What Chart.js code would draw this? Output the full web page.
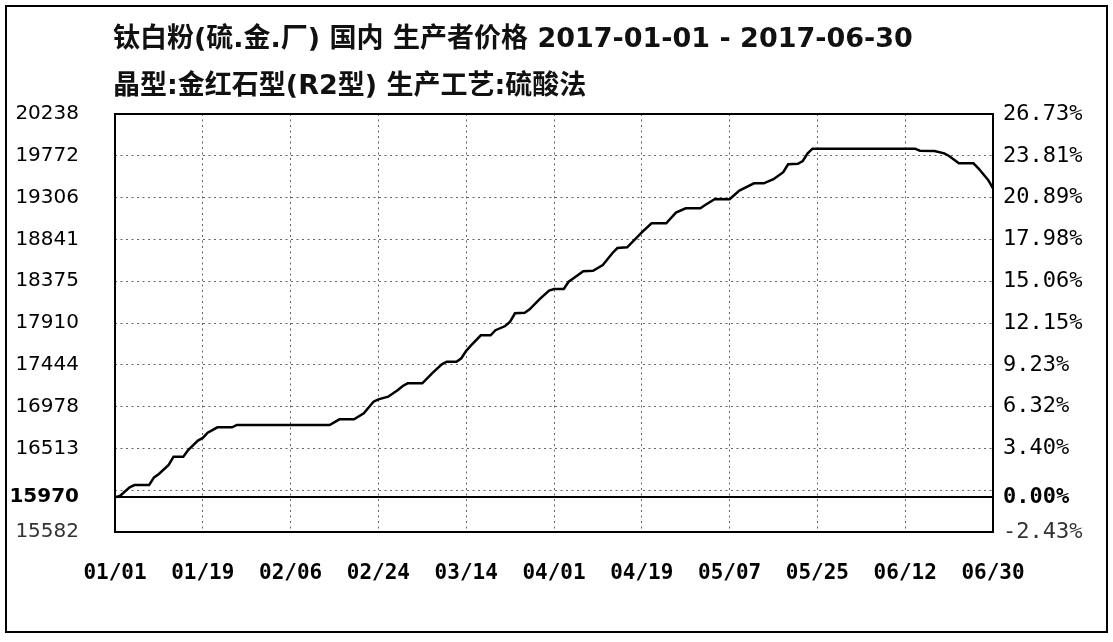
<!DOCTYPE html>
<html>
<head>
<meta charset="utf-8">
<script src="https://cdn.jsdelivr.net/npm/chart.js@4.4.1/dist/chart.umd.min.js"></script>
<style>
  html, body { margin: 0; padding: 0; background: #fff; }
  #wrap { width: 1113px; height: 642px; }
</style>
</head>
<body>
<div id="wrap"><canvas id="c" width="1113" height="642"></canvas></div>
<script>
// ---- data ----
const titleLine1 = '钛白粉(硫.金.厂) 国内 生产者价格 2017-01-01 - 2017-06-30';
const titleLine2 = '晶型:金红石型(R2型) 生产工艺:硫酸法';

const dates = [
  '2017-01-01','2017-01-02','2017-01-04','2017-01-05','2017-01-08','2017-01-09','2017-01-10','2017-01-12',
  '2017-01-13','2017-01-15','2017-01-16','2017-01-18','2017-01-19','2017-01-20','2017-01-22','2017-01-25',
  '2017-01-26','2017-02-14','2017-02-16','2017-02-19','2017-02-21','2017-02-23','2017-02-24','2017-02-26',
  '2017-02-28','2017-03-01','2017-03-02','2017-03-05','2017-03-07','2017-03-09','2017-03-10','2017-03-12',
  '2017-03-13','2017-03-14','2017-03-15','2017-03-17','2017-03-19','2017-03-20','2017-03-22','2017-03-23',
  '2017-03-24','2017-03-26','2017-03-27','2017-03-29','2017-03-31','2017-04-01','2017-04-03','2017-04-04',
  '2017-04-05','2017-04-07','2017-04-09','2017-04-11','2017-04-13','2017-04-14','2017-04-16','2017-04-19',
  '2017-04-21','2017-04-24','2017-04-26','2017-04-28','2017-05-01','2017-05-02','2017-05-04','2017-05-07',
  '2017-05-09','2017-05-12','2017-05-14','2017-05-16','2017-05-18','2017-05-19','2017-05-21','2017-05-22',
  '2017-05-23','2017-05-24','2017-06-14','2017-06-15','2017-06-18','2017-06-20','2017-06-21','2017-06-23',
  '2017-06-26','2017-06-27','2017-06-29','2017-06-30'
];
const prices = [
  15970,15983,16080,16105,16105,16190,16228,16330,
  16421,16421,16495,16600,16630,16688,16748,16748,
  16774,16774,16837,16837,16904,17033,17060,17089,
  17164,17208,17238,17238,17350,17450,17479,17479,
  17517,17600,17660,17773,17773,17830,17876,17924,
  18018,18025,18063,18174,18270,18289,18289,18370,
  18408,18486,18492,18556,18690,18745,18753,18920,
  19020,19020,19140,19188,19188,19224,19291,19288,
  19385,19466,19466,19511,19590,19678,19683,19715,
  19800,19852,19852,19829,19826,19800,19770,19689,
  19689,19633,19503,19410
];

const xTickDates = ['2017-01-01','2017-01-19','2017-02-06','2017-02-24','2017-03-14','2017-04-01',
                    '2017-04-19','2017-05-07','2017-05-25','2017-06-12','2017-06-30'];
const xTickLabels = ['01/01','01/19','02/06','02/24','03/14','04/01','04/19','05/07','05/25','06/12','06/30'];

const basePrice = 15970;
const yMin = 15582, yMax = 20238;
const yTickValues = [15582, 15970, 16047.6, 16513.2, 16978.8, 17444.4, 17910, 18375.6, 18841.2, 19306.8, 19772.4, 20238];
const leftTickLabels = ['15582','15970','','16513','16978','17444','17910','18375','18841','19306','19772','20238'];
const rightTickLabels = ['-2.43%','0.00%','','3.40%','6.32%','9.23%','12.15%','15.06%','17.98%','20.89%','23.81%','26.73%'];

// ---- helpers ----
const day0 = Date.UTC(2017, 0, 1);
function dayOf(s) { const p = s.split('-'); return (Date.UTC(+p[0], +p[1] - 1, +p[2]) - day0) / 86400000; }
const points = dates.map((d, i) => ({ x: dayOf(d), y: prices[i] }));
const xTickValues = xTickDates.map(dayOf);

const framePlugin = {
  id: 'frame',
  beforeDraw(chart) {
    const c = chart.ctx;
    c.save(); c.fillStyle = '#fff'; c.fillRect(0, 0, chart.width, chart.height); c.restore();
  },
  afterDraw(chart) {
    const c = chart.ctx, a = chart.chartArea;
    c.save();
    c.strokeStyle = '#000';
    c.lineWidth = 2;
    c.strokeRect(a.left, a.top, a.right - a.left, a.bottom - a.top);
    c.strokeRect(6, 6, chart.width - 12, chart.height - 16);
    c.fillStyle = '#111';
    c.textBaseline = 'middle';
    c.textAlign = 'left';
    c.font = "bold 27px 'DejaVu Sans', 'Noto Sans CJK SC'";
    c.fillText(titleLine1, 113, 40);
    c.fillText(titleLine2, 113, 87);
    c.restore();
  }
};

const dash = ctx => (ctx.tick && Math.abs(ctx.tick.value - basePrice) < 0.01) ? [] : [2, 3.5];

new Chart(document.getElementById('c'), {
  type: 'line',
  data: {
    datasets: [{
      data: points,
      borderColor: '#000',
      borderWidth: 2.5,
      pointRadius: 0,
      tension: 0,
      fill: false,
      yAxisID: 'y'
    }]
  },
  options: {
    responsive: false,
    animation: false,
    events: [],
    layout: { padding: { top: 114, left: 0, right: 0, bottom: 0 } },
    plugins: { legend: { display: false }, tooltip: { enabled: false }, title: { display: false } },
    scales: {
      x: {
        type: 'linear', min: 0, max: 180,
        afterBuildTicks: s => { s.ticks = xTickValues.map(v => ({ value: v })); },
        afterFit: s => { s.height = 110; },
        ticks: {
          autoSkip: false, maxRotation: 0, minRotation: 0, padding: 29,
          color: '#000',
          font: { family: "'DejaVu Sans Mono'", size: 21, weight: 'bold' },
          callback: (v, i) => xTickLabels[i]
        },
        grid: { color: '#666', lineWidth: 1, drawTicks: false },
        border: { display: false, dash: [2, 3.5] }
      },
      y: {
        type: 'linear', position: 'left', min: yMin, max: yMax,
        afterBuildTicks: s => { s.ticks = yTickValues.map(v => ({ value: v })); },
        afterFit: s => { s.width = 115; },
        ticks: {
          autoSkip: false, padding: 36,
          color: ctx => ctx.tick && ctx.tick.value === yMin ? '#333' : '#000',
          font: ctx => ({ family: "'DejaVu Sans'", size: 20,
                          weight: (ctx.tick && ctx.tick.value === basePrice) ? 'bold' : 'normal' }),
          callback: (v, i) => leftTickLabels[i]
        },
        grid: {
          drawTicks: false,
          color: ctx => (ctx.tick && Math.abs(ctx.tick.value - basePrice) < 0.01) ? '#000' : '#666',
          lineWidth: ctx => (ctx.tick && Math.abs(ctx.tick.value - basePrice) < 0.01) ? 2 : 1
        },
        border: { display: false, dash: dash }
      },
      y2: {
        type: 'linear', position: 'right', min: yMin, max: yMax,
        afterBuildTicks: s => { s.ticks = yTickValues.map(v => ({ value: v })); },
        afterFit: s => { s.width = 120; },
        ticks: {
          autoSkip: false, padding: 10,
          color: ctx => ctx.tick && ctx.tick.value === yMin ? '#333' : '#000',
          font: ctx => ({ family: "'DejaVu Sans Mono'", size: 22,
                          weight: (ctx.tick && ctx.tick.value === basePrice) ? 'bold' : 'normal' }),
          callback: (v, i) => rightTickLabels[i]
        },
        grid: { display: false, drawTicks: false },
        border: { display: false }
      }
    }
  },
  plugins: [framePlugin]
});
</script>
</body>
</html>
